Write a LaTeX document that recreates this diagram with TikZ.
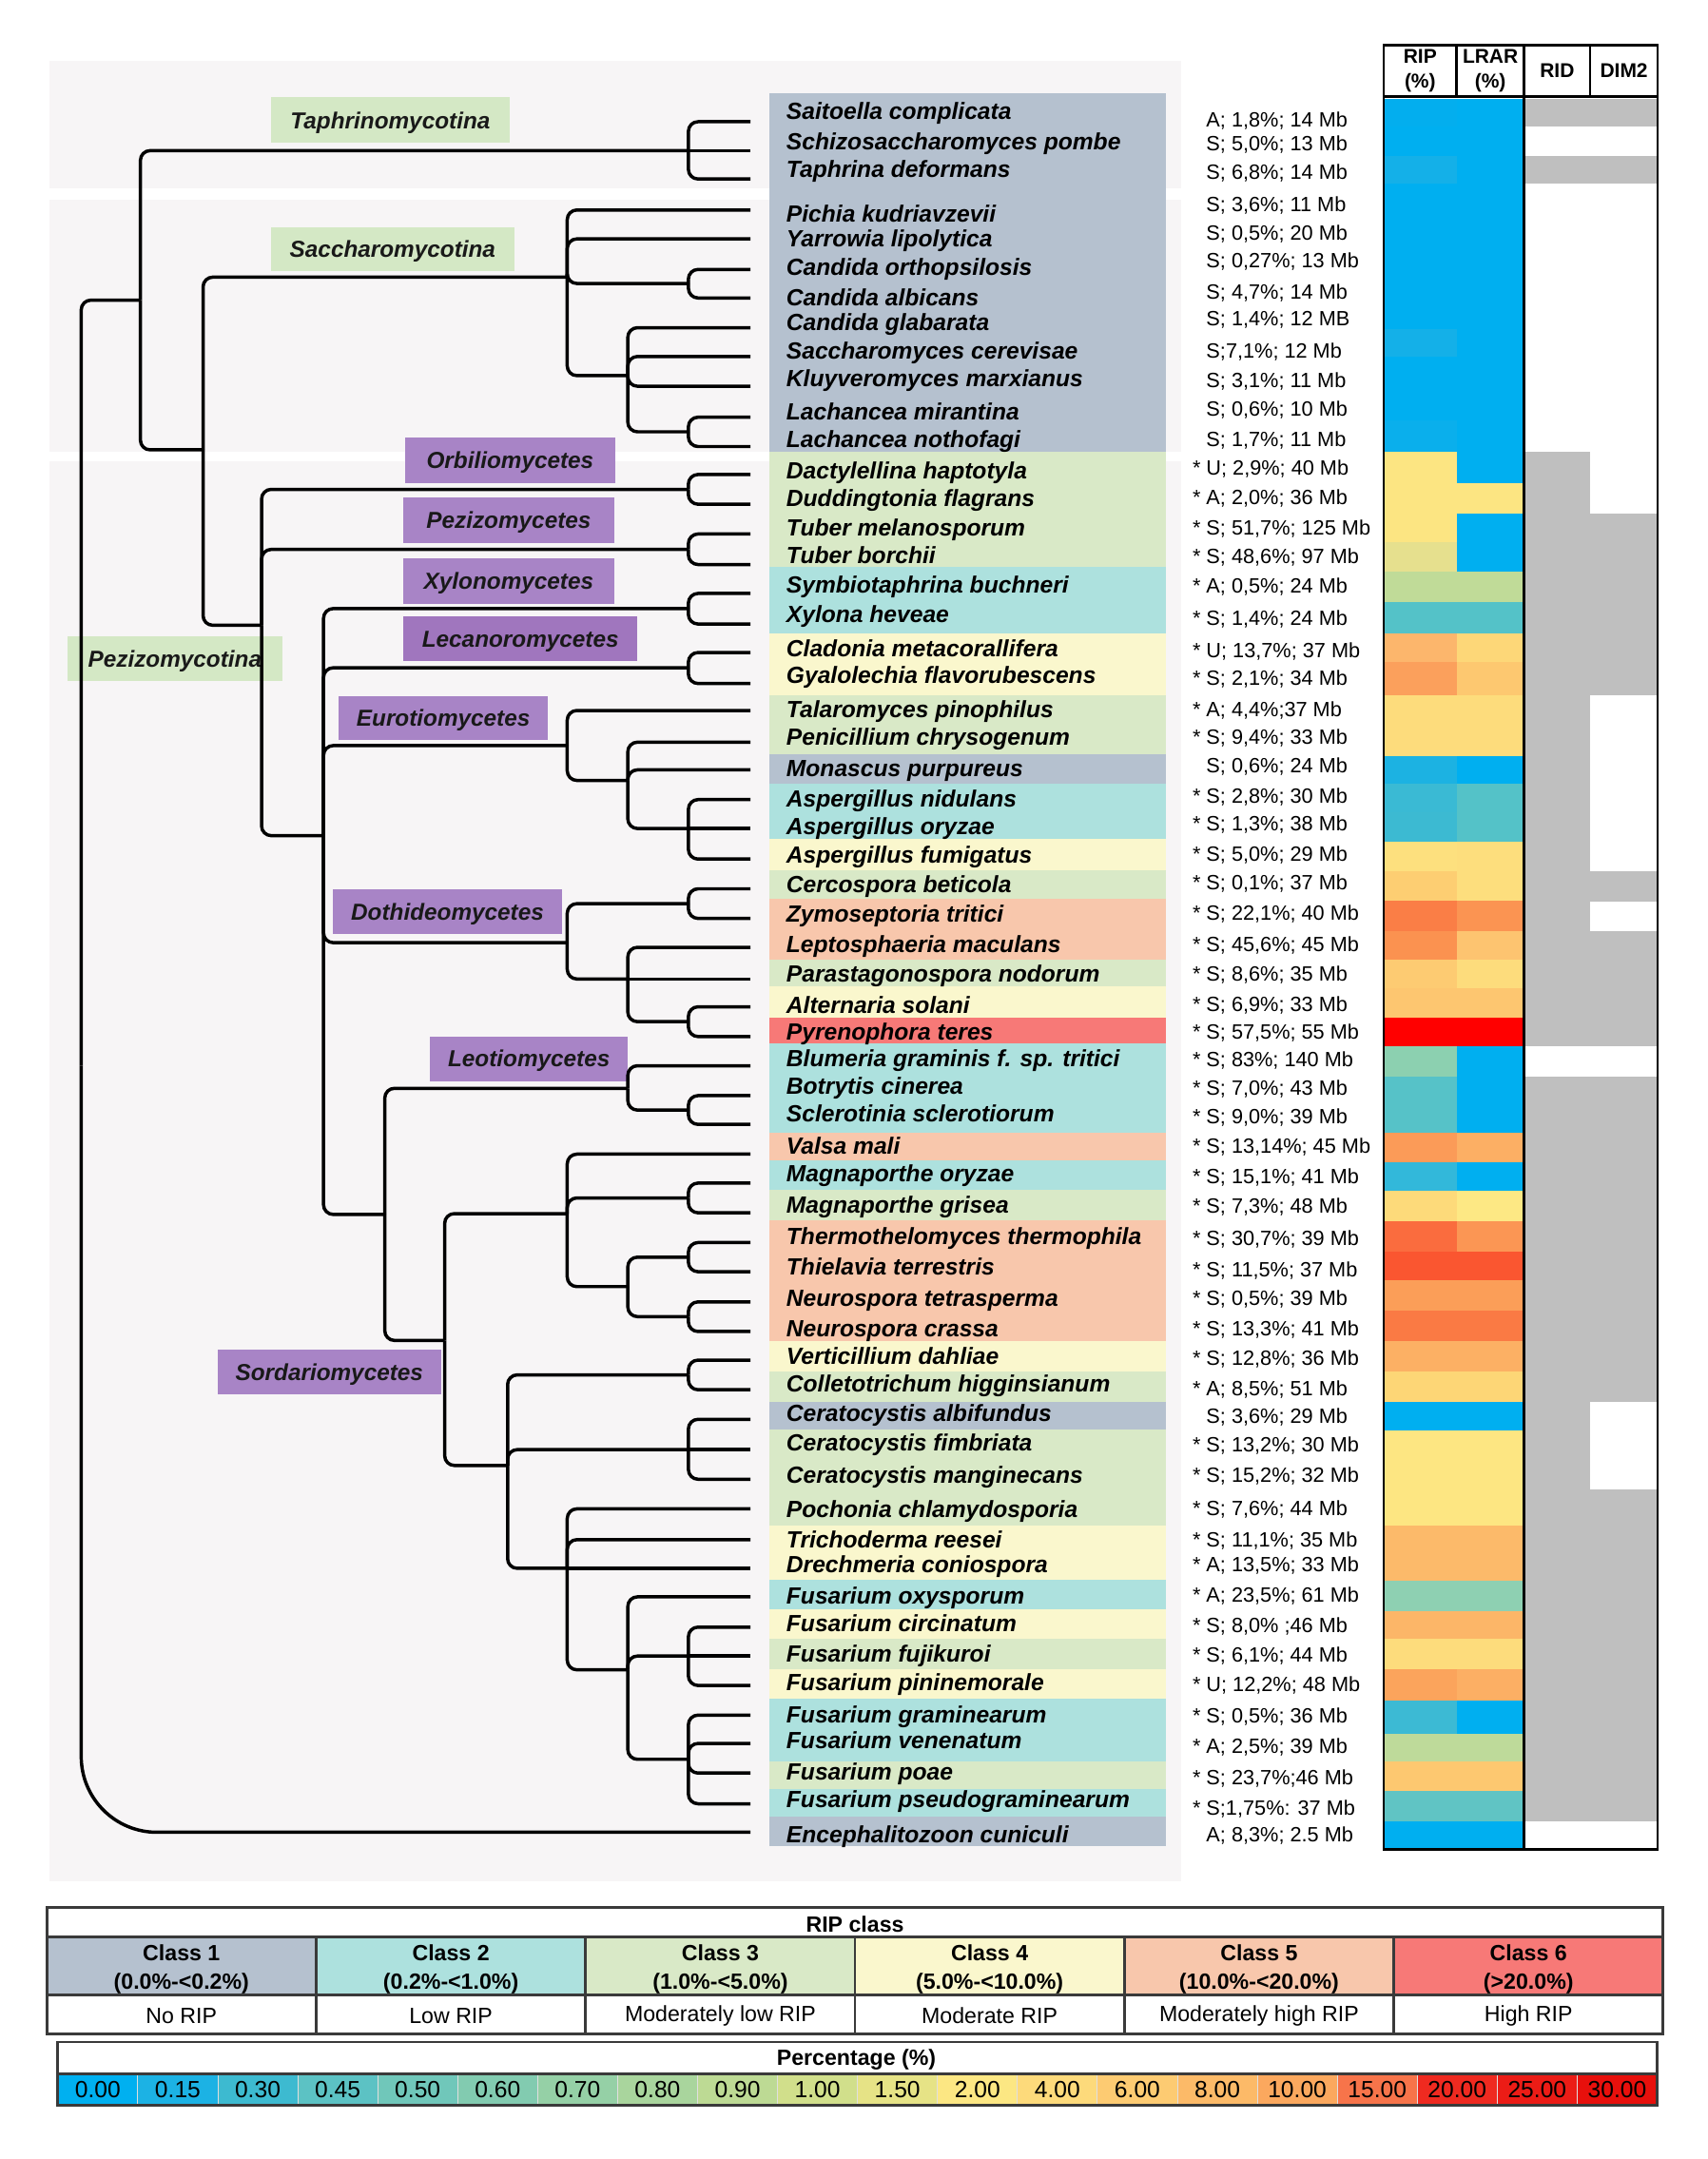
\documentclass[tikz,border=0pt]{standalone}
\usepackage{fontspec}
\setmainfont{Liberation Sans}

% class colours
\definecolor{cone}{RGB}{181,193,207}
\definecolor{ctwo}{RGB}{173,225,222}
\definecolor{cthree}{RGB}{217,233,199}
\definecolor{cfour}{RGB}{250,247,205}
\definecolor{cfive}{RGB}{248,199,172}
\definecolor{csix}{RGB}{247,121,119}
\definecolor{panel}{RGB}{247,245,246}
\definecolor{labgreen}{RGB}{212,232,197}
\definecolor{labpurple}{RGB}{168,132,198}
\definecolor{labpurpledk}{RGB}{160,118,190}
\definecolor{ridgray}{RGB}{191,191,191}
\definecolor{legdark}{RGB}{58,58,58}

\newcommand\heatrow[4]{%
  \definecolor{hrip}{HTML}{#3}\definecolor{hlrar}{HTML}{#4}%
  \fill[hrip] (1005,#1) rectangle (1058.4,{#2+0.4});%
  \fill[hlrar] (1058,#1) rectangle (1107,{#2+0.4});}
\newcommand\pctcell[3]{%
  \definecolor{pcell}{HTML}{#2}%
  \fill[pcell] ({42+58.08*#1},1506) rectangle ({42+58.08*(#1+1)+0.4},1529);%
  \node[legtext, font=\fontsize{17}{17}\selectfont] (pc#1) at ({42+58.08*(#1+0.5)},1517.5) {#3};}

\tikzset{
  branch/.style={line width=2.4pt, rounded corners=7pt},
  sp/.style={anchor=west, inner sep=0pt, text height=12pt, text depth=0pt,
    font=\fontsize{17}{17}\selectfont\bfseries\itshape},
  st/.style={anchor=west, inner sep=0pt, text height=10.7pt, text depth=0pt,
    font=\fontsize{15}{15}\selectfont},
  cladebox/.style={inner sep=0pt, text height=12pt, text depth=0pt, text=black!90,
    font=\fontsize{16.8}{17}\selectfont\bfseries\itshape},
  hdr/.style={inner sep=0pt, align=center, font=\fontsize{14.5}{18}\selectfont\bfseries},
  frameline/.style={line width=1.8pt, draw=black},
  legline/.style={line width=2pt, draw=legdark},
  legtext/.style={inner sep=0pt, font=\fontsize{16}{16}\selectfont},
  legbold/.style={inner sep=0pt, align=center, font=\fontsize{16}{21}\selectfont\bfseries},
}

\begin{document}
\begin{tikzpicture}[x=1pt,y=-1pt]
\useasboundingbox (0,0) rectangle (1240,1568);

% Drawing the background panel
\fill[panel] (36,44) rectangle (858,1366);
\fill[white] (36,137) rectangle (858,145);
\fill[white] (36,328) rectangle (858,335);

% Drawing class bands behind species names
\fill[cone] (559,68) rectangle (847,328);
\fill[cthree] (559,328) rectangle (847,412);
\fill[ctwo] (559,412) rectangle (847,460);
\fill[cfour] (559,460) rectangle (847,505);
\fill[cthree] (559,505) rectangle (847,548);
\fill[cone] (559,548) rectangle (847,569);
\fill[ctwo] (559,569) rectangle (847,609);
\fill[cfour] (559,609) rectangle (847,632);
\fill[cthree] (559,632) rectangle (847,653);
\fill[cfive] (559,653) rectangle (847,697);
\fill[cthree] (559,697) rectangle (847,716);
\fill[cfour] (559,716) rectangle (847,739);
\fill[csix] (559,739) rectangle (847,758);
\fill[ctwo] (559,758) rectangle (847,823);
\fill[cfive] (559,823) rectangle (847,843);
\fill[ctwo] (559,843) rectangle (847,864);
\fill[cthree] (559,864) rectangle (847,886);
\fill[cfive] (559,886) rectangle (847,974);
\fill[cfour] (559,974) rectangle (847,996);
\fill[cthree] (559,996) rectangle (847,1018);
\fill[cone] (559,1018) rectangle (847,1038);
\fill[cthree] (559,1038) rectangle (847,1108);
\fill[cfour] (559,1108) rectangle (847,1147);
\fill[ctwo] (559,1147) rectangle (847,1169);
\fill[cfour] (559,1169) rectangle (847,1190);
\fill[cthree] (559,1190) rectangle (847,1212);
\fill[cfour] (559,1212) rectangle (847,1234);
\fill[ctwo] (559,1234) rectangle (847,1279);
\fill[cthree] (559,1279) rectangle (847,1299);
\fill[ctwo] (559,1299) rectangle (847,1319);
\fill[cone] (559,1319) rectangle (847,1341);

% Marking clade labels
\node[cladebox, fill=labgreen, minimum width=173pt, minimum height=33pt] (taphrino) at (283.5,87.3) {Taphrinomycotina};
\node[cladebox, fill=labgreen, minimum width=176.5pt, minimum height=32.3pt] (sacchar) at (285.2,181) {Saccharomycotina};
\node[cladebox, fill=labgreen, minimum width=156pt, minimum height=32.4pt] (pezizo) at (127,478.6) {Pezizomycotina};
\node[cladebox, fill=labpurple, minimum width=153pt, minimum height=32.8pt] (orbilio) at (370.5,334.4) {Orbiliomycetes};
\node[cladebox, fill=labpurple, minimum width=153pt, minimum height=33pt] (pezizomyc) at (369.5,378) {Pezizomycetes};
\node[cladebox, fill=labpurple, minimum width=153pt, minimum height=33pt] (xylono) at (369.5,422) {Xylonomycetes};
\node[cladebox, fill=labpurpledk, minimum width=170pt, minimum height=32.7pt] (lecano) at (378,464) {Lecanoromycetes};
\node[cladebox, fill=labpurple, minimum width=152pt, minimum height=32pt] (euro) at (322,521.7) {Eurotiomycetes};
\node[cladebox, fill=labpurple, minimum width=166pt, minimum height=32.4pt] (dothi) at (325,662.2) {Dothideomycetes};
\node[cladebox, fill=labpurple, minimum width=143.5pt, minimum height=32.4pt] (leotio) at (384.2,769) {Leotiomycetes};
\node[cladebox, fill=labpurple, minimum width=162.6pt, minimum height=32.4pt] (sordario) at (239.2,996.6) {Sordariomycetes};

% Marking tips of the tree
\coordinate (t1) at (545,88.4);   \coordinate (t2) at (545,109.4);  \coordinate (t3) at (545,130);
\coordinate (t4) at (545,152.5);  \coordinate (t5) at (545,173.5);  \coordinate (t6) at (545,195.7);
\coordinate (t7) at (545,216.4);  \coordinate (t8) at (545,238);    \coordinate (t9) at (545,258.9);
\coordinate (t10) at (545,280.5); \coordinate (t11) at (545,303);   \coordinate (t12) at (545,324.3);
\coordinate (t13) at (545,344.6); \coordinate (t14) at (545,366.2); \coordinate (t15) at (545,387.8);
\coordinate (t16) at (545,410);   \coordinate (t17) at (545,431);   \coordinate (t18) at (545,453.2);
\coordinate (t19) at (545,473.9); \coordinate (t20) at (545,496.4); \coordinate (t21) at (545,516);
\coordinate (t22) at (545,539);   \coordinate (t23) at (545,559.1); \coordinate (t24) at (545,580.7);
\coordinate (t25) at (545,601.7); \coordinate (t26) at (545,623.9); \coordinate (t27) at (545,645.5);
\coordinate (t28) at (545,667);   \coordinate (t29) at (545,688);   \coordinate (t30) at (545,711);
\coordinate (t31) at (545,731.2); \coordinate (t32) at (545,752.8); \coordinate (t33) at (545,774);
\coordinate (t34) at (545,795.7); \coordinate (t35) at (545,816.6); \coordinate (t36) at (545,838.2);
\coordinate (t37) at (545,859.2); \coordinate (t38) at (545,880.8); \coordinate (t39) at (545,902.4);
\coordinate (t40) at (545,923.6); \coordinate (t41) at (545,945.5); \coordinate (t42) at (545,967);
\coordinate (t43) at (545,987.8); \coordinate (t44) at (545,1009.3); \coordinate (t45) at (545,1030.8);
\coordinate (t46) at (545,1052.8); \coordinate (t47) at (545,1074.3); \coordinate (t48) at (545,1095.8);
\coordinate (t49) at (545,1118.2); \coordinate (t50) at (545,1139); \coordinate (t51) at (545,1159.7);
\coordinate (t52) at (545,1181.7); \coordinate (t53) at (545,1202.7); \coordinate (t54) at (545,1224.1);
\coordinate (t55) at (545,1245.6); \coordinate (t56) at (545,1266.2); \coordinate (t57) at (545,1287.7);
\coordinate (t58) at (545,1310);  \coordinate (t59) at (545,1330.7);

% Marking inner nodes of the tree
\coordinate (nR) at (59,774);      \coordinate (nA) at (102,218);    \coordinate (nTa) at (500,109.4);
\coordinate (nB) at (147.5,326.7); \coordinate (nSa) at (412,201.3); \coordinate (nCa) at (500,205.9);
\coordinate (nD) at (456,272.8);   \coordinate (nLa) at (500,313.6); \coordinate (nC) at (190,454.1);
\coordinate (nOr) at (500,355.4);  \coordinate (nPe) at (500,399);   \coordinate (nE) at (235,606.9);
\coordinate (nXy) at (500,442);    \coordinate (nLe) at (500,485);   \coordinate (nEu) at (412,541.5);
\coordinate (nG) at (456,566.8);   \coordinate (nAs) at (500,601.7); \coordinate (nDo) at (412,684.6);
\coordinate (nCe) at (500,656.3);  \coordinate (nH) at (456,711);    \coordinate (nAl) at (500,742);
\coordinate (nF) at (279.5,882);   \coordinate (nLo) at (456,790.4); \coordinate (nBo) at (500,806.2);
\coordinate (nS) at (323,973.5);   \coordinate (nI) at (412,881.4);  \coordinate (nMa) at (500,870);
\coordinate (nK) at (456,934.4);   \coordinate (nTh) at (500,913);   \coordinate (nNe) at (500,956.2);
\coordinate (nJ) at (368.7,1064.3); \coordinate (nVe) at (500,998.5); \coordinate (nCr) at (500,1052.8);
\coordinate (nHy) at (412,1139);   \coordinate (nFu) at (456,1212.7); \coordinate (nFc) at (500,1202.7);
\coordinate (nFg) at (500,1277.7);

% Drawing branches: root and Taphrinomycotina
\draw[branch] (nR) |- (nA);
\draw[branch, rounded corners=55pt] (nR) |- (t59);
\draw[branch] (nA) |- (nTa);
\draw[branch] (nA) |- (nB);
\draw[branch] (nTa) |- (t1); \draw[branch] (nTa) -- (t2); \draw[branch] (nTa) |- (t3);

% Drawing branches: Saccharomycotina
\draw[branch] (nB) |- (nSa);
\draw[branch] (nB) |- (nC);
\draw[branch] (nSa) |- (t4); \draw[branch] (nSa) |- (t5);
\draw[branch] (nSa) |- (nCa); \draw[branch] (nSa) |- (nD);
\draw[branch] (nCa) |- (t6); \draw[branch] (nCa) |- (t7);
\draw[branch] (nD) |- (t8); \draw[branch] (nD) |- (t9); \draw[branch] (nD) |- (t10);
\draw[branch] (nD) |- (nLa);
\draw[branch] (nLa) |- (t11); \draw[branch] (nLa) |- (t12);

% Drawing branches: Pezizomycotina
\draw[branch] (nC) |- (nOr); \draw[branch] (nC) |- (nPe); \draw[branch] (nC) |- (nE);
\draw[branch] (nOr) |- (t13); \draw[branch] (nOr) |- (t14);
\draw[branch] (nPe) |- (t15); \draw[branch] (nPe) |- (t16);
\draw[branch] (nE) |- (nXy); \draw[branch] (nE) |- (nLe); \draw[branch] (nE) |- (nEu);
\draw[branch] (nE) |- (nDo); \draw[branch] (nE) |- (nF);
\draw[branch] (nXy) |- (t17); \draw[branch] (nXy) |- (t18);
\draw[branch] (nLe) |- (t19); \draw[branch] (nLe) |- (t20);
\draw[branch] (nEu) |- (t21); \draw[branch] (nEu) |- (nG);
\draw[branch] (nG) |- (t22); \draw[branch] (nG) |- (t23); \draw[branch] (nG) |- (nAs);
\draw[branch] (nAs) |- (t24); \draw[branch] (nAs) -- (t25); \draw[branch] (nAs) |- (t26);
\draw[branch] (nDo) |- (nCe); \draw[branch] (nDo) |- (nH);
\draw[branch] (nCe) |- (t27); \draw[branch] (nCe) |- (t28);
\draw[branch] (nH) |- (t29); \draw[branch] (nH) -- (t30); \draw[branch] (nH) |- (nAl);
\draw[branch] (nAl) |- (t31); \draw[branch] (nAl) |- (t32);

% Drawing branches: Leotiomycetes and Sordariomycetes
\draw[branch] (nF) |- (nLo); \draw[branch] (nF) |- (nS);
\draw[branch] (nLo) |- (t33); \draw[branch] (nLo) |- (nBo);
\draw[branch] (nBo) |- (t34); \draw[branch] (nBo) |- (t35);
\draw[branch] (nS) |- (nI); \draw[branch] (nS) |- (nJ);
\draw[branch] (nI) |- (t36); \draw[branch] (nI) |- (nMa); \draw[branch] (nI) |- (nK);
\draw[branch] (nMa) |- (t37); \draw[branch] (nMa) |- (t38);
\draw[branch] (nK) |- (nTh); \draw[branch] (nK) |- (nNe);
\draw[branch] (nTh) |- (t39); \draw[branch] (nTh) |- (t40);
\draw[branch] (nNe) |- (t41); \draw[branch] (nNe) |- (t42);
\draw[branch] (nJ) |- (nVe); \draw[branch] (nJ) |- (nCr); \draw[branch] (nJ) |- (nHy);
\draw[branch] (nVe) |- (t43); \draw[branch] (nVe) |- (t44);
\draw[branch] (nCr) |- (t45); \draw[branch] (nCr) -- (t46); \draw[branch] (nCr) |- (t47);
\draw[branch] (nHy) |- (t48); \draw[branch] (nHy) |- (t49); \draw[branch] (nHy) -- (t50);
\draw[branch] (nHy) |- (nFu);
\draw[branch] (nFu) |- (t51); \draw[branch] (nFu) |- (nFc); \draw[branch] (nFu) |- (nFg);
\draw[branch] (nFc) |- (t52); \draw[branch] (nFc) -- (t53); \draw[branch] (nFc) |- (t54);
\draw[branch] (nFg) |- (t55); \draw[branch] (nFg) |- (t56); \draw[branch] (nFg) |- (t57);
\draw[branch] (nFg) |- (t58);

% Marking species names and genome data
\node[sp] (sp1) at (571,81) {Saitoella complicata};          \node[st] (st1) at (876,87) {A; 1,8\%; 14 Mb};
\node[sp] (sp2) at (571,103) {Schizosaccharomyces pombe};    \node[st] (st2) at (876,104) {S; 5,0\%; 13 Mb};
\node[sp] (sp3) at (571,123) {Taphrina deformans};           \node[st] (st3) at (876,125) {S; 6,8\%; 14 Mb};
\node[sp] (sp4) at (571,155) {Pichia kudriavzevii};          \node[st] (st4) at (876,148) {S; 3,6\%; 11 Mb};
\node[sp] (sp5) at (571,173) {Yarrowia lipolytica};          \node[st] (st5) at (876,169) {S; 0,5\%; 20 Mb};
\node[sp] (sp6) at (571,194) {Candida orthopsilosis};        \node[st] (st6) at (876,189) {S; 0,27\%; 13 Mb};
\node[sp] (sp7) at (571,216) {Candida albicans};             \node[st] (st7) at (876,212) {S; 4,7\%; 14 Mb};
\node[sp] (sp8) at (571,234) {Candida glabarata};            \node[st] (st8) at (876,231) {S; 1,4\%; 12 MB};
\node[sp] (sp9) at (571,255) {Saccharomyces cerevisae};      \node[st] (st9) at (876,255) {S;7,1\%; 12 Mb};
\node[sp] (sp10) at (571,275) {Kluyveromyces marxianus};     \node[st] (st10) at (876,276) {S; 3,1\%; 11 Mb};
\node[sp] (sp11) at (571,299) {Lachancea mirantina};         \node[st] (st11) at (876,297) {S; 0,6\%; 10 Mb};
\node[sp] (sp12) at (571,319) {Lachancea nothofagi};         \node[st] (st12) at (876,319) {S; 1,7\%; 11 Mb};
\node[sp] (sp13) at (571,342) {Dactylellina haptotyla};      \node[st] (st13) at (876,340) {\llap{* }U; 2,9\%; 40 Mb};
\node[sp] (sp14) at (571,362) {Duddingtonia flagrans};       \node[st] (st14) at (876,361) {\llap{* }A; 2,0\%; 36 Mb};
\node[sp] (sp15) at (571,383) {Tuber melanosporum};          \node[st] (st15) at (876,383) {\llap{* }S; 51,7\%; 125 Mb};
\node[sp] (sp16) at (571,403) {Tuber borchii};               \node[st] (st16) at (876,404) {\llap{* }S; 48,6\%; 97 Mb};
\node[sp] (sp17) at (571,425) {Symbiotaphrina buchneri};     \node[st] (st17) at (876,425) {\llap{* }A; 0,5\%; 24 Mb};
\node[sp] (sp18) at (571,446) {Xylona heveae};               \node[st] (st18) at (876,449) {\llap{* }S; 1,4\%; 24 Mb};
\node[sp] (sp19) at (571,471) {Cladonia metacorallifera};    \node[st] (st19) at (876,472) {\llap{* }U; 13,7\%; 37 Mb};
\node[sp] (sp20) at (571,490) {Gyalolechia flavorubescens};  \node[st] (st20) at (876,492) {\llap{* }S; 2,1\%; 34 Mb};
\node[sp] (sp21) at (571,515) {Talaromyces pinophilus};      \node[st] (st21) at (876,515) {\llap{* }A; 4,4\%;37 Mb};
\node[sp] (sp22) at (571,535) {Penicillium chrysogenum};     \node[st] (st22) at (876,535) {\llap{* }S; 9,4\%; 33 Mb};
\node[sp] (sp23) at (571,558) {Monascus purpureus};          \node[st] (st23) at (876,556) {S; 0,6\%; 24 Mb};
\node[sp] (sp24) at (571,580) {Aspergillus nidulans};        \node[st] (st24) at (876,578) {\llap{* }S; 2,8\%; 30 Mb};
\node[sp] (sp25) at (571,600) {Aspergillus oryzae};          \node[st] (st25) at (876,598) {\llap{* }S; 1,3\%; 38 Mb};
\node[sp] (sp26) at (571,621) {Aspergillus fumigatus};       \node[st] (st26) at (876,620) {\llap{* }S; 5,0\%; 29 Mb};
\node[sp] (sp27) at (571,642) {Cercospora beticola};         \node[st] (st27) at (876,641) {\llap{* }S; 0,1\%; 37 Mb};
\node[sp] (sp28) at (571,664) {Zymoseptoria tritici};        \node[st] (st28) at (876,663) {\llap{* }S; 22,1\%; 40 Mb};
\node[sp] (sp29) at (571,686) {Leptosphaeria maculans};      \node[st] (st29) at (876,686) {\llap{* }S; 45,6\%; 45 Mb};
\node[sp] (sp30) at (571,707) {Parastagonospora nodorum};    \node[st] (st30) at (876,707) {\llap{* }S; 8,6\%; 35 Mb};
\node[sp] (sp31) at (571,730) {Alternaria solani};           \node[st] (st31) at (876,729) {\llap{* }S; 6,9\%; 33 Mb};
\node[sp] (sp32) at (571,749) {Pyrenophora teres};           \node[st] (st32) at (876,749) {\llap{* }S; 57,5\%; 55 Mb};
\node[sp] (sp33) at (571,769) {Blumeria graminis f. sp. tritici}; \node[st] (st33) at (876,769) {\llap{* }S; 83\%; 140 Mb};
\node[sp] (sp34) at (571,789) {Botrytis cinerea};            \node[st] (st34) at (876,790) {\llap{* }S; 7,0\%; 43 Mb};
\node[sp] (sp35) at (571,809) {Sclerotinia sclerotiorum};    \node[st] (st35) at (876,811) {\llap{* }S; 9,0\%; 39 Mb};
\node[sp] (sp36) at (571,832) {Valsa mali};                  \node[st] (st36) at (876,832) {\llap{* }S; 13,14\%; 45 Mb};
\node[sp] (sp37) at (571,852) {Magnaporthe oryzae};          \node[st] (st37) at (876,854) {\llap{* }S; 15,1\%; 41 Mb};
\node[sp] (sp38) at (571,875) {Magnaporthe grisea};          \node[st] (st38) at (876,876) {\llap{* }S; 7,3\%; 48 Mb};
\node[sp] (sp39) at (571,898) {Thermothelomyces thermophila}; \node[st] (st39) at (876,899) {\llap{* }S; 30,7\%; 39 Mb};
\node[sp] (sp40) at (571,920) {Thielavia terrestris};        \node[st] (st40) at (876,922) {\llap{* }S; 11,5\%; 37 Mb};
\node[sp] (sp41) at (571,943) {Neurospora tetrasperma};      \node[st] (st41) at (876,943) {\llap{* }S; 0,5\%; 39 Mb};
\node[sp] (sp42) at (571,965) {Neurospora crassa};           \node[st] (st42) at (876,965) {\llap{* }S; 13,3\%; 41 Mb};
\node[sp] (sp43) at (571,985) {Verticillium dahliae};        \node[st] (st43) at (876,986) {\llap{* }S; 12,8\%; 36 Mb};
\node[sp] (sp44) at (571,1005) {Colletotrichum higginsianum}; \node[st] (st44) at (876,1008) {\llap{* }A; 8,5\%; 51 Mb};
\node[sp] (sp45) at (571,1026) {Ceratocystis albifundus};    \node[st] (st45) at (876,1028) {S; 3,6\%; 29 Mb};
\node[sp] (sp46) at (571,1048) {Ceratocystis fimbriata};     \node[st] (st46) at (876,1049) {\llap{* }S; 13,2\%; 30 Mb};
\node[sp] (sp47) at (571,1071) {Ceratocystis manginecans};   \node[st] (st47) at (876,1071) {\llap{* }S; 15,2\%; 32 Mb};
\node[sp] (sp48) at (571,1096) {Pochonia chlamydosporia};    \node[st] (st48) at (876,1095) {\llap{* }S; 7,6\%; 44 Mb};
\node[sp] (sp49) at (571,1118) {Trichoderma reesei};         \node[st] (st49) at (876,1118) {\llap{* }S; 11,1\%; 35 Mb};
\node[sp] (sp50) at (571,1136) {Drechmeria coniospora};      \node[st] (st50) at (876,1136) {\llap{* }A; 13,5\%; 33 Mb};
\node[sp] (sp51) at (571,1159) {Fusarium oxysporum};         \node[st] (st51) at (876,1158) {\llap{* }A; 23,5\%; 61 Mb};
\node[sp] (sp52) at (571,1179) {Fusarium circinatum};        \node[st] (st52) at (876,1180) {\llap{* }S; 8,0\% ;46 Mb};
\node[sp] (sp53) at (571,1201) {Fusarium fujikuroi};         \node[st] (st53) at (876,1202) {\llap{* }S; 6,1\%; 44 Mb};
\node[sp] (sp54) at (571,1222) {Fusarium pininemorale};      \node[st] (st54) at (876,1223) {\llap{* }U; 12,2\%; 48 Mb};
\node[sp] (sp55) at (571,1245) {Fusarium graminearum};       \node[st] (st55) at (876,1246) {\llap{* }S; 0,5\%; 36 Mb};
\node[sp] (sp56) at (571,1264) {Fusarium venenatum};         \node[st] (st56) at (876,1268) {\llap{* }A; 2,5\%; 39 Mb};
\node[sp] (sp57) at (571,1287) {Fusarium poae};              \node[st] (st57) at (876,1291) {\llap{* }S; 23,7\%;46 Mb};
\node[sp] (sp58) at (571,1307) {Fusarium pseudograminearum}; \node[st] (st58) at (876,1313) {\llap{* }S;1,75\%: 37 Mb};
\node[sp] (sp59) at (571,1332) {Encephalitozoon cuniculi};   \node[st] (st59) at (876,1332) {A; 8,3\%; 2.5 Mb};

% Drawing heat map of RIP and LRAR
\heatrow{72}{92}{03AEEE}{00AFF0}     \heatrow{92}{113}{00AFF0}{00AFF0}
\heatrow{113}{133}{14B0E8}{00AFF0}   \heatrow{133}{154}{00AFF0}{00AFF0}
\heatrow{154}{174}{00AFF0}{00AFF0}   \heatrow{174}{195}{00AFF0}{00AFF0}
\heatrow{195}{215}{00AFF0}{00AFF0}   \heatrow{215}{239}{00AFF0}{00AFF0}
\heatrow{239}{259}{14B0E8}{00AFF0}   \heatrow{259}{283}{00AFF0}{00AFF0}
\heatrow{283}{305}{00AFF0}{00AFF0}   \heatrow{305}{328}{0AAFEC}{00AFF0}
\heatrow{328}{351}{FCE582}{00AFF0}   \heatrow{351}{373}{FCE582}{FCE582}
\heatrow{373}{394}{FCE582}{00AFF0}   \heatrow{394}{415}{E6E08E}{00AFF0}
\heatrow{415}{437}{C0DB98}{C0DB98}   \heatrow{437}{460}{54C2C8}{54C2C8}
\heatrow{460}{481}{FCB66C}{FDD778}   \heatrow{481}{505}{FBA05C}{FDC870}
\heatrow{505}{527}{FDDC7C}{FDDC7C}   \heatrow{527}{549}{FDDC7C}{FDDC7C}
\heatrow{549}{569}{1CB2E2}{00AFF0}   \heatrow{569}{590}{3ABAD4}{54C2C8}
\heatrow{590}{611}{3CBAD2}{54C2C8}   \heatrow{611}{633}{FDE07E}{FDDE7D}
\heatrow{633}{654}{FDCE72}{FDDE7D}   \heatrow{654}{676}{FA7E46}{FB9452}
\heatrow{676}{697}{FB9250}{FDC470}   \heatrow{697}{718}{FDCB72}{FDDC7C}
\heatrow{718}{739}{FDC670}{FDC670}   \heatrow{739}{760}{FF0000}{FF0000}
\heatrow{760}{782}{8CD0B0}{00AFF0}   \heatrow{782}{802}{56C2C8}{00AFF0}
\heatrow{802}{823}{56C2C8}{00AFF0}   \heatrow{823}{844}{FB9B58}{FCAF64}
\heatrow{844}{865}{32B8DA}{00AFF0}   \heatrow{865}{887}{FDDA7A}{FDE884}
\heatrow{887}{909}{FA6C3E}{FB9654}   \heatrow{909}{930}{FA5630}{FA5630}
\heatrow{930}{952}{FB9E58}{FB9E58}   \heatrow{952}{974}{FA7A44}{FA7A44}
\heatrow{974}{996}{FCB064}{FCB064}   \heatrow{996}{1018}{FDD676}{FDD676}
\heatrow{1018}{1039}{00AFF0}{00AFF0} \heatrow{1039}{1061}{FDE682}{FDE682}
\heatrow{1061}{1083}{FDE682}{FDE682} \heatrow{1083}{1108}{FDE682}{FDE682}
\heatrow{1108}{1128}{FCBA6A}{FCBA6A} \heatrow{1128}{1148}{FCBA6A}{FCBA6A}
\heatrow{1148}{1170}{8ED0B2}{8ED0B2} \heatrow{1170}{1190}{FCB668}{FCB668}
\heatrow{1190}{1212}{FDDC7C}{FDDC7C} \heatrow{1212}{1235}{FBA45C}{FCAF64}
\heatrow{1235}{1259}{3CBAD4}{00AFF0} \heatrow{1259}{1279}{BEDA9A}{BEDA9A}
\heatrow{1279}{1301}{FDC870}{FDC870} \heatrow{1301}{1323}{60C4C4}{60C4C4}
\heatrow{1323}{1342}{00AFF0}{00AFF0}

% Drawing RID and DIM2 presence
\fill[ridgray] (1107,72) rectangle (1204,1342);
\fill[white] (1107,92) rectangle (1204,113);
\fill[white] (1107,133) rectangle (1204,328);
\fill[white] (1155,328) rectangle (1204,373);
\fill[white] (1155,505) rectangle (1204,633);
\fill[white] (1155,655) rectangle (1204,676);
\fill[white] (1107,760) rectangle (1204,782);
\fill[white] (1155,1018) rectangle (1204,1082);
\fill[white] (1107,1323) rectangle (1204,1343);

% Drawing frame of the heat map
\draw[frameline] (1005,33) rectangle (1204,1343);
\draw[frameline] (1005,70) -- (1204,70);
\draw[frameline] (1058,33) -- (1058,70);
\draw[frameline] (1107,33) -- (1107,1343);
\draw[frameline] (1155,33) -- (1155,70);
\node[hdr] (hdrRip) at (1031.5,51.5) {RIP\\(\%)};
\node[hdr] (hdrLrar) at (1082.5,51.5) {LRAR\\(\%)};
\node[hdr] (hdrRid) at (1131,51.5) {RID};
\node[hdr] (hdrDim) at (1179.5,51.5) {DIM2};

% Drawing RIP class table
\fill[cone] (34,1407) rectangle (229.7,1449);
\fill[ctwo] (229.7,1407) rectangle (425.3,1449);
\fill[cthree] (425.3,1407) rectangle (621,1449);
\fill[cfour] (621,1407) rectangle (816.7,1449);
\fill[cfive] (816.7,1407) rectangle (1012.3,1449);
\fill[csix] (1012.3,1407) rectangle (1208,1449);
\draw[legline] (34,1385) rectangle (1208,1477);
\draw[legline] (34,1407) -- (1208,1407);
\draw[legline] (34,1449) -- (1208,1449);
\draw[legline] (229.7,1407) -- (229.7,1477);
\draw[legline] (425.3,1407) -- (425.3,1477);
\draw[legline] (621,1407) -- (621,1477);
\draw[legline] (816.7,1407) -- (816.7,1477);
\draw[legline] (1012.3,1407) -- (1012.3,1477);
\node[legbold] (ripclass) at (621,1397.5) {RIP class};
\node[legbold] (cl1) at (131.8,1430) {Class 1\\(0.0\%-<0.2\%)};
\node[legbold] (cl2) at (327.5,1430) {Class 2\\(0.2\%-<1.0\%)};
\node[legbold] (cl3) at (523.2,1430) {Class 3\\(1.0\%-<5.0\%)};
\node[legbold] (cl4) at (718.8,1430) {Class 4\\(5.0\%-<10.0\%)};
\node[legbold] (cl5) at (914.5,1430) {Class 5\\(10.0\%-<20.0\%)};
\node[legbold] (cl6) at (1110.2,1430) {Class 6\\(>20.0\%)};
\node[legtext] (ds1) at (131.8,1464) {No RIP};
\node[legtext] (ds2) at (327.5,1464) {Low RIP};
\node[legtext] (ds3) at (523.2,1464) {Moderately low RIP};
\node[legtext] (ds4) at (718.8,1464) {Moderate RIP};
\node[legtext] (ds5) at (914.5,1464) {Moderately high RIP};
\node[legtext] (ds6) at (1110.2,1464) {High RIP};

% Drawing percentage colour bar
\pctcell{0}{00B0F0}{0.00}   \pctcell{1}{1CB2E4}{0.15}   \pctcell{2}{3DBAD0}{0.30}
\pctcell{3}{5CC2C4}{0.45}   \pctcell{4}{70C7BA}{0.50}   \pctcell{5}{82CBB0}{0.60}
\pctcell{6}{95D0A6}{0.70}   \pctcell{7}{A9D59D}{0.80}   \pctcell{8}{BDDA94}{0.90}
\pctcell{9}{D1DF8B}{1.00}   \pctcell{10}{E6E386}{1.50}  \pctcell{11}{FCE783}{2.00}
\pctcell{12}{FDDA7B}{4.00}  \pctcell{13}{FDCB72}{6.00}  \pctcell{14}{FCBA68}{8.00}
\pctcell{15}{FBA85E}{10.00} \pctcell{16}{F7744A}{15.00} \pctcell{17}{EF2A20}{20.00}
\pctcell{18}{EC1C16}{25.00} \pctcell{19}{E8100C}{30.00}
\foreach \k in {1,...,19}
  \draw[white!75!gray, line width=0.6pt] ({42+58.08*\k},1506) -- ({42+58.08*\k},1529);
\draw[legline] (42,1483) rectangle (1203.6,1529);
\draw[legline] (42,1506) -- (1203.6,1506);
\node[legbold] (pct) at (622,1495.5) {Percentage (\%)};
\end{tikzpicture}
\end{document}
